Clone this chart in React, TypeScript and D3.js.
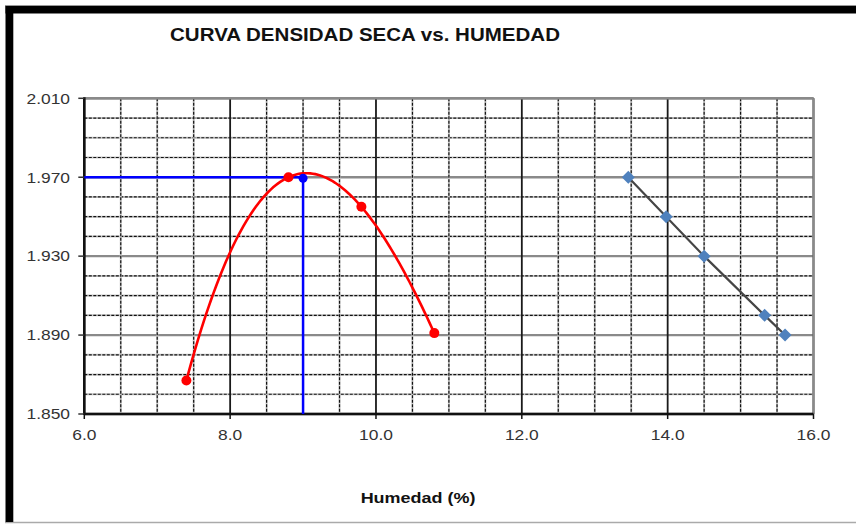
import React from "react";
import * as d3 from "d3";

const W = 856;
const H = 526;

const titleText = "CURVA DENSIDAD SECA vs. HUMEDAD";
const xTitleText = "Humedad (%)";

// Compaction points (moisture %, dry density)
const humedad = [7.4, 8.8, 9.8, 10.8];
const densidad = [1.867, 1.97, 1.955, 1.891];

// Optimum point
const optHumedad = [9.0];
const optDensidad = [1.97];

// Zero-air-voids style line
const zavHumedad = [13.46, 13.98, 14.5, 15.33, 15.61];
const zavDensidad = [1.97, 1.95, 1.93, 1.9, 1.89];

const xTicks = [6, 8, 10, 12, 14, 16];
const yTicks = [1.85, 1.89, 1.93, 1.97, 2.01];

const FONT = "'Liberation Sans', Arial, Helvetica, sans-serif";
const STRETCH = 1.16;

// Polynomial trendline (order 3) through the measured points
function trendline(xs: number[], ys: number[]) {
  return (x: number) => {
    let s = 0;
    for (let i = 0; i < xs.length; i++) {
      let t = ys[i];
      for (let j = 0; j < xs.length; j++) {
        if (j !== i) t *= (x - xs[j]) / (xs[i] - xs[j]);
      }
      s += t;
    }
    return s;
  };
}

export default function App() {
  const x = d3.scaleLinear().domain([6, 16]).range([84.3, 813.5]);
  const y = d3.scaleLinear().domain([1.85, 2.01]).range([414, 98.3]);

  const xGrid = d3.range(6, 16.0001, 0.5);
  const yGrid = d3.range(0, 17).map((i) => 1.85 + i * 0.01);
  const isMajorX = (v: number) => Math.abs(v / 2 - Math.round(v / 2)) < 1e-6;
  const isMajorY = (v: number) => {
    const k = (v - 1.85) / 0.04;
    return Math.abs(k - Math.round(k)) < 1e-6;
  };

  const fit = trendline(humedad, densidad);
  const [xmin, xmax] = d3.extent(humedad) as [number, number];
  const samples = d3.range(0, 101).map((i) => xmin + ((xmax - xmin) * i) / 100);
  const curve = d3
    .line<number>()
    .x((v) => x(v))
    .y((v) => y(fit(v)))(samples);

  const zavLine = d3
    .line<number>()
    .x((_, i) => x(zavHumedad[i]))
    .y((_, i) => y(zavDensidad[i]))(zavHumedad);

  const x0 = x(6);
  const x1 = x(16);
  const y0 = y(1.85);
  const y1 = y(2.01);

  return (
    <svg
      width={W}
      height={H}
      style={{ position: "absolute", left: 0, top: 0, background: "#fff" }}
    >
      <rect x={0} y={0} width={W} height={H} fill="#fff" />
      {/* outer frame */}
      <line x1={5} x2={W} y1={5.5} y2={5.5} stroke="#999" strokeWidth={1} />
      <line x1={5} x2={W} y1={522.5} y2={522.5} stroke="#aaa" strokeWidth={1.5} />
      <rect x={5.5} y={6} width={W} height={7.5} fill="#000" />
      <rect x={5.5} y={6} width={7.8} height={516} fill="#000" />

      {/* title */}
      <text
        transform={`translate(365,41) scale(${STRETCH},1)`}
        textAnchor="middle"
        fontFamily={FONT}
        fontWeight="bold"
        fontSize={17.7}
        fill="#111"
      >
        {titleText}
      </text>

      {/* grid */}
      {yGrid.map((v, i) =>
        isMajorY(v) ? (
          <line key={"hy" + i} x1={x0} x2={x1} y1={y(v)} y2={y(v)} stroke="#8a8a8a" strokeWidth={2.4} />
        ) : (
          <g key={"hy" + i}>
            <line x1={x0} x2={x1} y1={y(v)} y2={y(v)} stroke="#c8c8c8" strokeWidth={2} />
            <line x1={x0} x2={x1} y1={y(v)} y2={y(v)} stroke="#111" strokeWidth={1.2} strokeDasharray="3 1.5" />
          </g>
        )
      )}
      {xGrid.map((v, i) =>
        isMajorX(v) ? (
          <line key={"vx" + i} x1={x(v)} x2={x(v)} y1={y1} y2={y0} stroke="#1a1a1a" strokeWidth={1.8} />
        ) : (
          <g key={"vx" + i}>
            <line x1={x(v)} x2={x(v)} y1={y1} y2={y0} stroke="#c8c8c8" strokeWidth={2} />
            <line x1={x(v)} x2={x(v)} y1={y1} y2={y0} stroke="#111" strokeWidth={1.2} strokeDasharray="3 1.5" />
          </g>
        )
      )}

      {/* plot borders */}
      <line x1={x0} x2={x1} y1={y1} y2={y1} stroke="#8a8a8a" strokeWidth={2.4} />
      <line x1={x1} x2={x1} y1={y1} y2={y0} stroke="#8a8a8a" strokeWidth={2} />
      <line x1={x0} x2={x0} y1={y1 - 1} y2={y0 + 1} stroke="#111" strokeWidth={2.6} />
      <line x1={x0} x2={x1} y1={y0} y2={y0} stroke="#111" strokeWidth={2.6} />

      {/* ticks */}
      {yTicks.map((v, i) => (
        <line key={"yt" + i} x1={x0 - 6} x2={x0} y1={y(v)} y2={y(v)} stroke="#333" strokeWidth={1.5} />
      ))}
      {xTicks.map((v, i) => (
        <line key={"xt" + i} x1={x(v)} x2={x(v)} y1={y0} y2={y0 + 5} stroke="#111" strokeWidth={1.5} />
      ))}

      {/* tick labels */}
      {yTicks.map((v, i) => (
        <text
          key={"yl" + i}
          transform={`translate(70,${y(v) + 5.3}) scale(${STRETCH},1)`}
          textAnchor="end"
          fontFamily={FONT}
          fontSize={15}
          fill="#333"
        >
          {v.toFixed(3)}
        </text>
      ))}
      {xTicks.map((v, i) => (
        <text
          key={"xl" + i}
          transform={`translate(${x(v)},440) scale(${STRETCH},1)`}
          textAnchor="middle"
          fontFamily={FONT}
          fontSize={15}
          fill="#333"
        >
          {v.toFixed(1)}
        </text>
      ))}

      {/* x title */}
      <text
        transform={`translate(418,503.3) scale(${STRETCH},1)`}
        textAnchor="middle"
        fontFamily={FONT}
        fontWeight="bold"
        fontSize={15.5}
        fill="#111"
      >
        {xTitleText}
      </text>

      {/* optimum guide lines */}
      {optHumedad.map((v, i) => (
        <g key={"opt" + i}>
          <line x1={x0} x2={x(v)} y1={y(optDensidad[i])} y2={y(optDensidad[i])} stroke="#0000ff" strokeWidth={2.5} />
          <line x1={x(v)} x2={x(v)} y1={y(optDensidad[i])} y2={y0} stroke="#0000ff" strokeWidth={2.5} />
        </g>
      ))}

      {/* compaction curve */}
      <path d={curve ?? ""} fill="none" stroke="#ff0000" strokeWidth={2.6} />
      {humedad.map((v, i) => (
        <circle key={"p" + i} cx={x(v)} cy={y(densidad[i])} r={5} fill="#ff0000" />
      ))}
      {optHumedad.map((v, i) => (
        <circle key={"o" + i} cx={x(v)} cy={y(optDensidad[i]) + 1} r={4.5} fill="#0000ff" />
      ))}

      {/* zero air voids line */}
      <path d={zavLine ?? ""} fill="none" stroke="#454545" strokeWidth={2.2} />
      {zavHumedad.map((v, i) => (
        <path
          key={"z" + i}
          d={`M${x(v)},${y(zavDensidad[i]) - 6.5} l6.5,6.5 l-6.5,6.5 l-6.5,-6.5 Z`}
          fill="#4f81bd"
        />
      ))}
    </svg>
  );
}
